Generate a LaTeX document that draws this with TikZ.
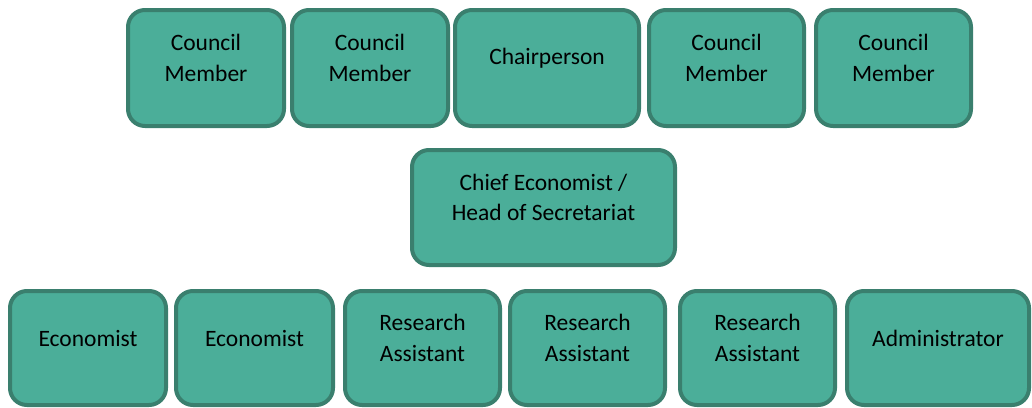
\documentclass[tikz,border=0pt]{standalone}
\usepackage{fontspec}
\setmainfont{Carlito}
\definecolor{boxfill}{HTML}{4BAE99}
\definecolor{boxline}{HTML}{3A7F6E}
\tikzset{
  orgbox/.style={draw=boxline, fill=boxfill, line width=4pt, rounded corners=17pt, inner sep=0pt},
  orgtext/.style={font=\fontsize{23.5}{30.5}\selectfont, align=center, text=black, inner sep=0pt}
}
\newcommand{\orgbx}[6]{%
  \node[orgbox, minimum width={#4-#2-4pt}, minimum height={#5-#3-4pt},
        label={[orgtext, yshift=10pt]center:#6}] (#1) at ({(#2+#4)/2},{(#3+#5)/2}) {};}
\begin{document}
\begin{tikzpicture}[x=1pt, y=-1pt]
\useasboundingbox (0,0) rectangle (1032,407);
% top row
\orgbx{cm1}{126}{8}{286}{128}{Council\\Member}
\orgbx{cm2}{290}{8}{450}{128}{Council\\Member}
\orgbx{chair}{453}{8}{641}{128}{Chairperson}
\orgbx{cm3}{647}{8}{806}{128}{Council\\Member}
\orgbx{cm4}{814}{8}{973}{128}{Council\\Member}
% middle
\orgbx{chief}{410}{148}{677}{267}{Chief Economist /\\Head of Secretariat}
% bottom row
\orgbx{eco1}{8}{289}{168}{407}{Economist}
\orgbx{eco2}{174}{289}{335}{407}{Economist}
\orgbx{ra1}{343}{289}{502}{407}{Research\\Assistant}
\orgbx{ra2}{508}{289}{667}{407}{Research\\Assistant}
\orgbx{ra3}{678}{289}{837}{407}{Research\\Assistant}
\orgbx{adm}{845}{289}{1031}{407}{Administrator}
\end{tikzpicture}
\end{document}
